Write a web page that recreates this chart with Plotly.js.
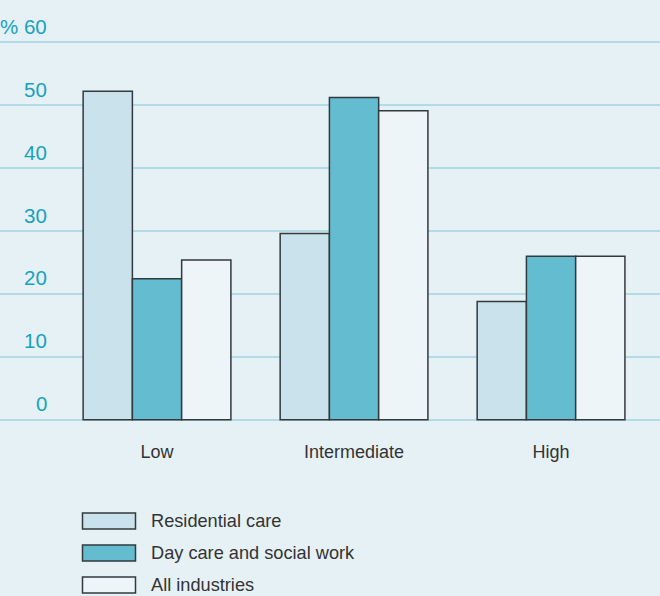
<!DOCTYPE html>
<html>
<head>
<meta charset="utf-8">
<script src="https://cdn.plot.ly/plotly-3.0.1.min.js"></script>
<style>html,body{margin:0;padding:0;background:#e6f1f6;}#chart{width:660px;height:596px;}</style>
</head>
<body>
<div id="chart"></div>
<script>
const categories = ["Low", "Intermediate", "High"];
const seriesNames = ["Residential care", "Day care and social work", "All industries"];
const residentialCare = [52.2, 29.6, 18.8];
const dayCareSocialWork = [22.4, 51.2, 26.0];
const allIndustries = [25.4, 49.1, 26.0];
const yTickValues = [0, 10, 20, 30, 40, 50, 60];
const yTickLabels = ["0", "10", "20", "30", "40", "50", "% 60"];

const colors = ["#cae2eb", "#63bccf", "#eef5f8"];
const seriesValues = [residentialCare, dayCareSocialWork, allIndustries];
const outline = "#333a3d";

const traces = seriesValues.map((vals, i) => ({
  type: "bar",
  x: categories,
  y: vals,
  name: seriesNames[i],
  marker: { color: colors[i], line: { color: outline, width: 1.5 } },
  showlegend: false,
  hoverinfo: "skip"
}));

const W = 660;
const annotations = yTickValues.map((v, i) => ({
  xref: "paper", yref: "y",
  x: 49 / W, y: v,
  xanchor: "right", yanchor: "middle",
  yshift: 16,
  text: yTickLabels[i],
  showarrow: false,
  font: { family: "Liberation Sans, Arial, sans-serif", size: 20.5, color: "#17a2bf" }
}));

// Legend (manual, paper coordinates relative to plot area)
const shapes = [];
const legendRowsY = [521, 553, 585];
const mT = 39, mB = 173, H = 596;
const plotH = H - mT - mB;
function py(pix) { return (H - mB - pix) / plotH; }
seriesNames.forEach((n, i) => {
  const cy = legendRowsY[i];
  shapes.push({
    type: "rect", xref: "paper", yref: "paper",
    x0: 82.5 / W, x1: 135.5 / W,
    y0: py(cy + 8), y1: py(cy - 8),
    fillcolor: colors[i], line: { color: outline, width: 1.5 }
  });
  annotations.push({
    xref: "paper", yref: "paper",
    x: 149 / W, y: py(cy),
    xanchor: "left", yanchor: "middle",
    text: n, showarrow: false,
    font: { family: "Liberation Sans, Arial, sans-serif", size: 18.2, color: "#333333" }
  });
});

const layout = {
  width: 660, height: 596,
  margin: { l: 0, r: 0, t: mT, b: mB, pad: 0 },
  paper_bgcolor: "#e6f1f6",
  plot_bgcolor: "#e6f1f6",
  barmode: "group",
  bargap: 0.25,
  bargroupgap: 0,
  xaxis: {
    type: "category",
    range: [-0.797, 2.553],
    showgrid: false, zeroline: false, showline: false,
    ticks: "",
    ticklabelstandoff: 16,
    tickfont: { family: "Liberation Sans, Arial, sans-serif", size: 18, color: "#333333" },
    fixedrange: true
  },
  yaxis: {
    range: [-0.5, 60.5],
    tickvals: yTickValues,
    showticklabels: false,
    showgrid: true, gridcolor: "#b2dbe6", gridwidth: 2,
    zeroline: false, showline: false,
    fixedrange: true
  },
  annotations: annotations,
  shapes: shapes
};

Plotly.newPlot("chart", traces, layout, { staticPlot: true, displayModeBar: false });
</script>
</body>
</html>
